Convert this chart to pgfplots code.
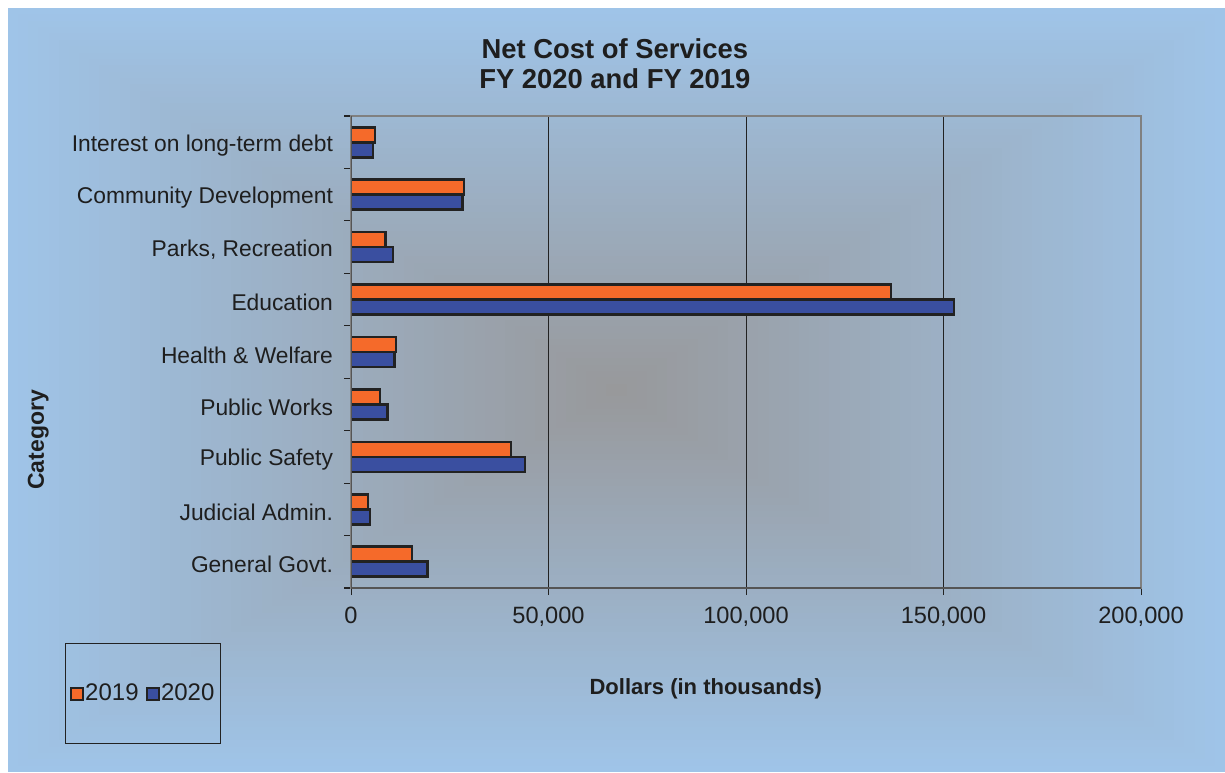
\documentclass[border=0pt]{standalone}
\usepackage{pgfplots}
\pgfplotsset{compat=1.18}
\usepackage{fontspec}
\setmainfont{Liberation Sans}
\definecolor{bgblue}{RGB}{159,196,232}
\definecolor{cgray}{RGB}{152,152,154}
\definecolor{orng}{RGB}{245,106,42}
\definecolor{blu}{RGB}{58,79,160}
\definecolor{edge}{RGB}{34,34,34}
\definecolor{axgray}{RGB}{128,128,128}
\definecolor{axdark}{RGB}{85,85,85}
\definecolor{txt}{RGB}{30,30,30}

\pgfplotstableread{
y v2019 v2020
0 15400 19300
1 4300 4800
2 40500 44100
3 7300 9200
4 11400 11000
5 136700 152700
6 8800 10600
7 28600 28200
8 6100 5600
}\datatable

\begin{document}
\begin{tikzpicture}
\fill[white] (0pt,0pt) rectangle (612.5pt,386pt);
% rectangular gradient background (from edge blue to centre gray)
\foreach \i in {0,...,59}{
  \pgfmathsetmacro{\t}{\i/60}
  \pgfmathsetmacro{\p}{100*\t}
  \pgfmathsetmacro{\hw}{304.25*(1-\t)}
  \pgfmathsetmacro{\hh}{191*(1-\t)}
  \fill[cgray!\p!bgblue] (308.25pt-\hw pt,191pt-\hh pt) rectangle (308.25pt+\hw pt,191pt+\hh pt);
}
\begin{axis}[
  at={(175.5pt,92pt)}, anchor=south west,
  width=395pt, height=236pt, scale only axis,
  xmin=0, xmax=200000, ymin=-0.5, ymax=8.5,
  xbar, bar width=7.5pt,
  ytick={0,...,8},
  yticklabels={General Govt., Judicial Admin., Public Safety, Public Works, Health \& Welfare, Education, {Parks, Recreation}, Community Development, Interest on long-term debt},
  minor ytick={-0.5,0.5,...,8.5},
  major y tick style={draw=none},
  tick align=outside,
  major tick length=3.5pt, minor tick length=3.5pt,
  xtick={0,50000,100000,150000,200000},
  xtick pos=left, ytick pos=left,
  x tick style={draw=edge, line width=0.5pt},
  minor y tick style={draw=edge, line width=0.6pt},
  scaled x ticks=false,
  yticklabel style={font=\fontsize{11.4pt}{13pt}\selectfont, text=txt, xshift=-2pt, yshift=-1.5pt},
  xticklabel style={font=\fontsize{11.8pt}{13pt}\selectfont, text=txt, yshift=-2.5pt, /pgf/number format/.cd, fixed, precision=0, 1000 sep={,}, assume math mode=true},
  xmajorgrids, x grid style={draw=edge, line width=0.5pt},
  axis line style={draw=axgray, line width=1.2pt},
  title={Net Cost of Services\\FY 2020 and FY 2019},
  title style={align=center, font=\bfseries\fontsize{13.7pt}{15pt}\selectfont, text=txt, at={(axis description cs:0.334,1)}, anchor=south, yshift=4pt},
  xlabel={Dollars (in thousands)},
  xlabel style={font=\bfseries\fontsize{11pt}{13pt}\selectfont, text=txt, at={(axis description cs:0.449,-0.213)}, anchor=center},
  ylabel={Category},
  ylabel style={font=\bfseries\fontsize{11.5pt}{13pt}\selectfont, text=txt, at={(axis description cs:-0.396,0.3136)}, anchor=center, rotate=0},
  legend columns=2,
  legend style={at={(axis description cs:-0.362,-0.1165)}, anchor=north west, draw=edge, line width=0.5pt, fill=none,
    inner xsep=2.25pt, inner ysep=19.5pt,
    nodes={inner sep=0.6pt, font=\fontsize{12pt}{14pt}\selectfont, text=txt},
    /tikz/every even column/.append style={column sep=3pt}},
]
\addplot[fill=orng, draw=edge, line width=1.3pt, bar shift=3.75pt,
  legend image code/.code={\draw[fill=orng, draw=edge, line width=1pt] (0pt,-3pt) rectangle (6pt,3pt);}]
  table[x=v2019, y=y] {\datatable};
\addplot[fill=blu, draw=edge, line width=1.3pt, bar shift=-3.75pt,
  legend image code/.code={\draw[fill=blu, draw=edge, line width=1pt] (0pt,-3pt) rectangle (6pt,3pt);}]
  table[x=v2020, y=y] {\datatable};
\legend{2019, 2020}
\draw[draw=axdark, line width=1pt] (rel axis cs:0,1) -- (rel axis cs:0,0) -- (rel axis cs:1,0);
\end{axis}
\pgfresetboundingbox
\useasboundingbox (0pt,0pt) rectangle (612.5pt,386pt);
\end{tikzpicture}
\end{document}
